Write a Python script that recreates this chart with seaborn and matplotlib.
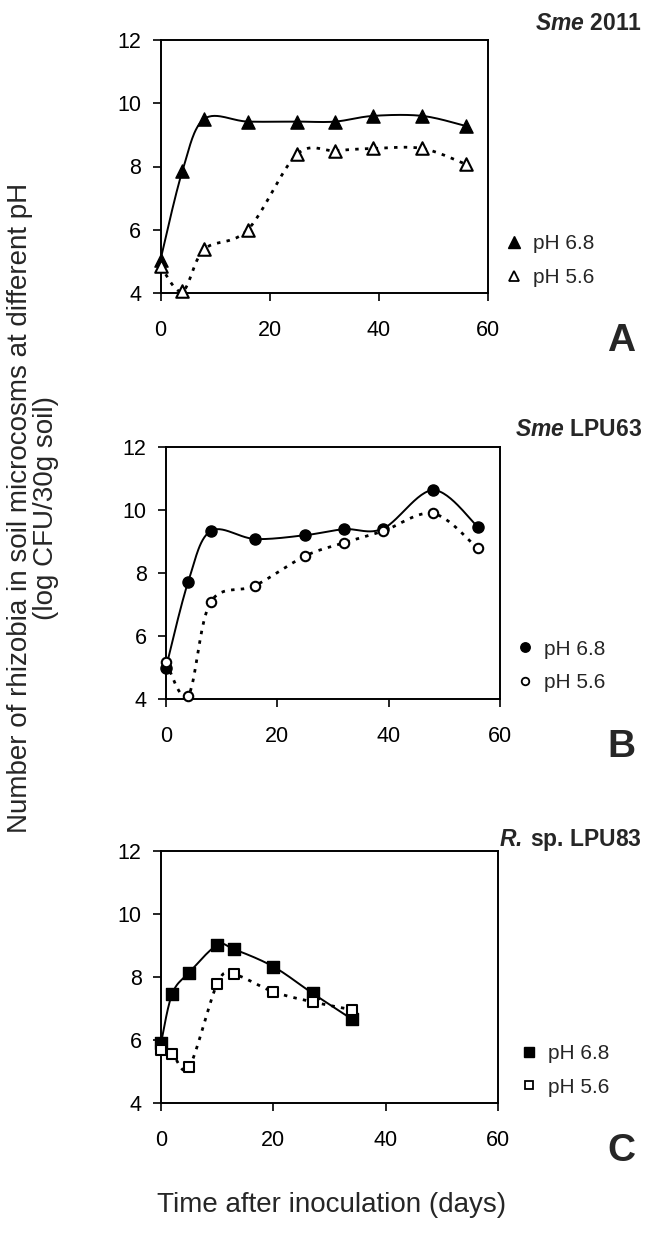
import numpy as np
import pandas as pd
import matplotlib
matplotlib.use('Agg')
import matplotlib.pyplot as plt
from matplotlib.lines import Line2D
import seaborn as sns

# Datos
DAYS_A = [0, 4, 8, 16, 25, 32, 39, 48, 56]
A_PH68 = [5.05, 7.85, 9.5, 9.42, 9.42, 9.42, 9.6, 9.6, 9.28]
A_PH56 = [4.85, 4.05, 5.38, 6.0, 8.38, 8.5, 8.57, 8.57, 8.07]

DAYS_B = [0, 4, 8, 16, 25, 32, 39, 48, 56]
B_PH68 = [5.0, 7.73, 9.33, 9.08, 9.2, 9.39, 9.41, 10.63, 9.47]
B_PH56 = [5.16, 4.11, 7.07, 7.6, 8.54, 8.96, 9.33, 9.89, 8.78]

DAYS_C = [0, 2, 5, 10, 13, 20, 27, 34]
C_PH68 = [5.9, 7.47, 8.14, 9.01, 8.88, 8.33, 7.48, 6.66]
C_PH56 = [5.69, 5.56, 5.14, 7.78, 8.08, 7.53, 7.21, 6.96]

LABELS = ['pH 6.8', 'pH 5.6']
TITLES = [r'$\mathbfit{Sme}$ 2011', r'$\mathbfit{Sme}$ LPU63', r'$\mathbfit{R.}\,$sp. LPU83']
LETTERS = ['A', 'B', 'C']
MARKERS = ['^', 'o', 's']
XTICKS = [0, 20, 40, 60]
YTICKS = [4, 6, 8, 10, 12]

W, H = 646, 1237

sns.set_theme(style='ticks')
plt.rcParams['font.family'] = ['Liberation Sans', 'DejaVu Sans']
plt.rcParams['mathtext.fontset'] = 'custom'
plt.rcParams['mathtext.bfit'] = 'Liberation Sans:italic:bold'
plt.rcParams['mathtext.rm'] = 'Liberation Sans:bold'
plt.rcParams['lines.scale_dashes'] = False


def smooth(ax, x, y, n=30):
    """Curva suavizada tipo Excel (Bezier / Catmull-Rom en pixeles)."""
    pts = ax.transData.transform(np.column_stack([x, y]))
    P = np.vstack([pts[0], pts, pts[-1]])
    t = np.linspace(0, 1, n)[:, None]
    out = []
    for i in range(1, len(P) - 2):
        p0, p1, p2, p3 = P[i - 1], P[i], P[i + 1], P[i + 2]
        c1 = p1 + (p2 - p0) / 6
        c2 = p2 - (p3 - p1) / 6
        seg = ((1 - t) ** 3) * p1 + 3 * ((1 - t) ** 2) * t * c1 + 3 * (1 - t) * t ** 2 * c2 + t ** 3 * p2
        out.append(seg)
    out = np.vstack(out)
    return ax.transData.inverted().transform(out).T


def panel(ax, days, y68, y56, marker, ms, ms_open, title, letter, leg_x, leg_y):
    ax.set_xlim(0, 60)
    ax.set_ylim(4, 12)
    ax.set_xticks(XTICKS)
    ax.set_yticks(YTICKS)
    for s in ax.spines.values():
        s.set_linewidth(1.4)
        s.set_color('black')
    ax.tick_params(axis='both', direction='out', length=5.5, width=1.2,
                   colors='black', labelsize=15.5)
    ax.tick_params(axis='x', pad=14)
    ax.tick_params(axis='y', pad=8.5)
    ax.set_facecolor('white')

    sx, sy = smooth(ax, days, y68)
    ax.plot(sx, sy, color='black', lw=1.4, solid_capstyle='round', zorder=2)
    sx, sy = smooth(ax, days, y56)
    ax.plot(sx, sy, color='black', lw=2.0, dashes=(2.5, 4.5), zorder=2)

    df = pd.DataFrame({'day': days, 'ph68': y68, 'ph56': y56})
    sns.scatterplot(data=df, x='day', y='ph68', marker=marker, s=ms ** 2,
                    color='black', edgecolor='black', linewidth=1.0,
                    ax=ax, zorder=3, clip_on=False)
    sns.scatterplot(data=df, x='day', y='ph56', marker=marker, s=ms_open ** 2,
                    color='white', edgecolor='black', linewidth=1.5,
                    ax=ax, zorder=4, clip_on=False)
    ax.set_xlabel('')
    ax.set_ylabel('')

    handles = [
        Line2D([], [], ls='none', marker=marker, ms=ms * 0.85, mfc='black', mec='black'),
        Line2D([], [], ls='none', marker=marker, ms=ms_open * 0.8, mfc='white', mec='black', mew=1.3),
    ]
    ax.legend(handles, LABELS, loc='center left', bbox_to_anchor=(leg_x, leg_y),
              frameon=False, handlelength=0.6, handletextpad=0.6, labelspacing=0.7,
              borderpad=0, borderaxespad=0, fontsize=15)

    bb = ax.get_position()
    fig.text(641.7 / W, bb.y1 + title[1] / H, title[0], ha='right', va='center',
             fontsize=16.5, fontweight='bold')
    fig.text(621 / W, bb.y0 - 48 / H, letter, ha='center', va='center',
             fontsize=28, fontweight='bold')


fig = plt.figure(figsize=(W / 100, H / 100), dpi=100)
fig.patch.set_facecolor('white')

ax_a = fig.add_axes([160.5 / W, 1 - 293 / H, 327.2 / W, 253 / H])
ax_b = fig.add_axes([166 / W, 1 - 699 / H, 334 / W, 252 / H])
ax_c = fig.add_axes([161 / W, 1 - 1103 / H, 337 / W, 252 / H])

panel(ax_a, DAYS_A, A_PH68, A_PH56, MARKERS[0], 9.5, 9.0, (TITLES[0], 17), LETTERS[0], 1.061, 0.128)
panel(ax_b, DAYS_B, B_PH68, B_PH56, MARKERS[1], 8.0, 6.8, (TITLES[1], 17), LETTERS[1], 1.056, 0.131)
panel(ax_c, DAYS_C, C_PH68, C_PH56, MARKERS[2], 8.0, 7.6, (TITLES[2], 11), LETTERS[2], 1.074, 0.129)

fig.text(33 / W, 1 - 508 / H,
         'Number of rhizobia in soil microcosms at different pH\n(log CFU/30g soil)',
         rotation=90, ha='center', va='center', fontsize=20, linespacing=1.0)
fig.text(332 / W, 1 - 1205 / H, 'Time after inoculation (days)',
         ha='center', va='center', fontsize=20)

fig.savefig('out.png', dpi=100)
